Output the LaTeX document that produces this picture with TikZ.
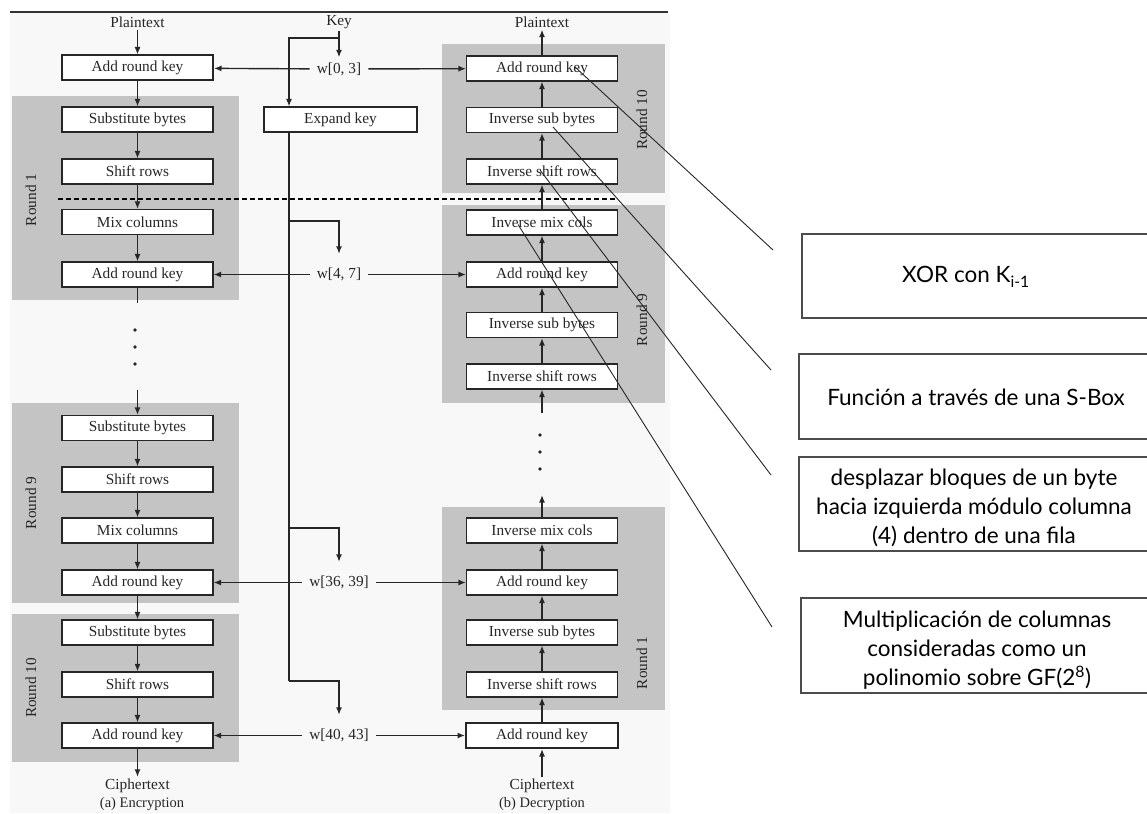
\documentclass[tikz,border=0pt]{standalone}
\usepackage{fontspec}
\setmainfont{Liberation Serif}
\newfontfamily\notefont{Lato}
\usetikzlibrary{arrows.meta,calc}
\definecolor{scanbg}{RGB}{247,248,247}
\definecolor{roundfill}{RGB}{196,196,196}
\definecolor{ink}{RGB}{38,38,38}
\begin{document}
\begin{tikzpicture}[x=1pt,y=-1pt,
  txt/.style={font=\fontsize{15.3}{17}\selectfont, text=ink},
  stage/.style={txt, draw=ink, fill=white, line width=1.1pt,
    minimum width=151pt, minimum height=25pt, inner sep=0pt},
  thickstage/.style={stage, line width=2pt},
  lbl/.style={txt, inner sep=2pt},
  roundlbl/.style={txt, rotate=90},
  flow/.style={draw=ink, line width=1.4pt, -{Latex[length=7.5pt,width=6pt]}},
  wire/.style={draw=ink, line width=1.4pt},
  notebox/.style={draw=black!70, line width=1.3pt, inner sep=0pt},
  notetext/.style={font=\notefont\fontsize{22.5}{29}\selectfont, align=center, inner sep=0pt},
  pointer/.style={draw=black!85, line width=0.9pt}
]
\useasboundingbox (0,0) rectangle (1147,813);
\clip (0,0) rectangle (1147,813);
\fill[white] (0,0) rectangle (1147,813);
\fill[scanbg] (10,12) rectangle (670,813);
\draw[black!80, line width=1.5pt] (10,12) -- (668,12);

% shaded round blocks
\fill[roundfill] (12,96) rectangle (239,300);
\fill[roundfill] (12,403) rectangle (239,603);
\fill[roundfill] (12,614) rectangle (239,762);
\fill[roundfill] (442,44) rectangle (665,193);
\fill[roundfill] (442,205) rectangle (665,403);
\fill[roundfill] (442,507) rectangle (665,710);

\node[roundlbl] (lr1) at (31,200) {Round 1};
\node[roundlbl] (lr9) at (31,503) {Round 9};
\node[roundlbl] (lr10) at (31,688) {Round 10};
\node[roundlbl] (rr10) at (642,120) {Round 10};
\node[roundlbl] (rr9) at (642,320) {Round 9};
\node[roundlbl] (rr1) at (642,663) {Round 1};

% boundary between first and later round keys
\draw[black, line width=1.4pt, dash pattern=on 5pt off 3pt] (58,199) -- (617,199);

% encryption column
\node[lbl] (ptA) at (137.5,22) {Plaintext};
\node[thickstage] (e0) at (137.5,68) {Add round key};
\node[stage] (e1sub) at (137.5,119.5) {Substitute bytes};
\node[stage] (e1shift) at (137.5,171.5) {Shift rows};
\node[stage] (e1mix) at (137.5,222) {Mix columns};
\node[stage] (e1ark) at (137.5,274.5) {Add round key};
\node[stage] (e9sub) at (137.5,428) {Substitute bytes};
\node[stage] (e9shift) at (137.5,479.5) {Shift rows};
\node[stage] (e9mix) at (137.5,530.5) {Mix columns};
\node[stage] (e9ark) at (137.5,582.5) {Add round key};
\node[stage] (e10sub) at (137.5,632.5) {Substitute bytes};
\node[stage] (e10shift) at (137.5,684.5) {Shift rows};
\node[stage] (e10ark) at (137.5,735.5) {Add round key};
\node[lbl] (ctA) at (137.5,786) {Ciphertext};
\node[lbl, font=\fontsize{14.5}{16}\selectfont] (capA) at (142,804) {(a) Encryption};

% key schedule column
\node[lbl] (key) at (339,22) {Key};
\node[thickstage, minimum width=153pt] (expand) at (340.5,120) {Expand key};
\node[lbl] (w0) at (339,69) {w[0, 3]};
\node[lbl] (w4) at (339,274.5) {w[4, 7]};
\node[lbl] (w36) at (339,582.5) {w[36, 39]};
\node[lbl] (w40) at (339,735.5) {w[40, 43]};

% decryption column
\node[lbl] (ptB) at (542,22) {Plaintext};
\node[stage] (d10ark) at (542,68.5) {Add round key};
\node[stage] (d10isb) at (542,120) {Inverse sub bytes};
\node[stage] (d10isr) at (542,171.5) {Inverse shift rows};
\node[stage] (d9imc) at (542,222.5) {Inverse mix cols};
\node[stage] (d9ark) at (542,274.5) {Add round key};
\node[stage] (d9isb) at (542,325) {Inverse sub bytes};
\node[stage] (d9isr) at (542,376.5) {Inverse shift rows};
\node[stage] (d1imc) at (542,530.5) {Inverse mix cols};
\node[stage] (d1ark) at (542,582.5) {Add round key};
\node[stage] (d1isb) at (542,632.5) {Inverse sub bytes};
\node[stage] (d1isr) at (542,684.5) {Inverse shift rows};
\node[thickstage, minimum width=152pt] (d0) at (542,735.5) {Add round key};
\node[lbl] (ctB) at (542,786) {Ciphertext};
\node[lbl, font=\fontsize{14.5}{16}\selectfont] (capB) at (542,804) {(b) Decryption};

% encryption flow
\coordinate (e1out) at (137.5,303);
\coordinate (e9in) at (137.5,390);
\draw[flow] (ptA) -- (e0);
\draw[flow] (e0) -- (e1sub);
\draw[flow] (e1sub) -- (e1shift);
\draw[flow] (e1shift) -- (e1mix);
\draw[flow] (e1mix) -- (e1ark);
\draw[wire] (e1ark) -- (e1out);
\draw[flow] (e9in) -- (e9sub);
\draw[flow] (e9sub) -- (e9shift);
\draw[flow] (e9shift) -- (e9mix);
\draw[flow] (e9mix) -- (e9ark);
\draw[flow] (e9ark) -- (e10sub);
\draw[flow] (e10sub) -- (e10shift);
\draw[flow] (e10shift) -- (e10ark);
\draw[flow] (e10ark) -- (ctA);
\foreach \yy in {330,347,364} \fill[ink] (135,\yy) circle (1.9pt);

% decryption flow
\coordinate (d1out) at (542,495);
\coordinate (d9in) at (542,413);
\draw[flow] (ctB) -- (d0);
\draw[flow] (d0) -- (d1isr);
\draw[flow] (d1isr) -- (d1isb);
\draw[flow] (d1isb) -- (d1ark);
\draw[flow] (d1ark) -- (d1imc);
\draw[flow] (d1imc) -- (d1out);
\draw[flow] (d9in) -- (d9isr);
\draw[flow] (d9isr) -- (d9isb);
\draw[flow] (d9isb) -- (d9ark);
\draw[flow] (d9ark) -- (d9imc);
\draw[flow] (d9imc) -- (d10isr);
\draw[flow] (d10isr) -- (d10isb);
\draw[flow] (d10isb) -- (d10ark);
\draw[flow] (d10ark) -- (ptB);
\foreach \yy in {435,452,469} \fill[ink] (540,\yy) circle (1.9pt);

% key expansion wiring
\coordinate (kb) at (339,38);
\coordinate (kx) at (289,38);
\coordinate (kb4) at (289,221);
\coordinate (kb36) at (289,528);
\coordinate (kd) at (289,681);
\draw[flow, shorten >=3pt] (key) -- (w0);
\draw[flow] (kb) -- (kx) -- (kx |- expand.north);
\draw[wire] (kx |- expand.south) -- (kd);
\draw[flow, shorten >=12pt] (kb4) -| (w4);
\draw[flow, shorten >=12pt] (kb36) -| (w36);
\draw[flow, shorten >=12pt] (kd) -| (w40);

% round keys to both ciphers
\foreach \w/\l/\r in {w0/e0/d10ark, w4/e1ark/d9ark, w36/e9ark/d1ark, w40/e10ark/d0} {
  \draw[flow, shorten <=5pt] (\w) -- (\l);
  \draw[flow, shorten <=5pt] (\w) -- (\r);
}

% annotation boxes
\node[notebox, minimum width=348pt, minimum height=84pt] (nxor) at (976,276) {};
\node[notetext] (txor) at (966,277) {XOR con K\textsubscript{i-1}};
\node[notebox, minimum width=351pt, minimum height=85pt] (nsbox) at (974.5,396.5) {};
\node[notetext] (tsbox) at (976,397) {Función a través de una S-Box};
\node[notebox, minimum width=351pt, minimum height=94pt] (nshift) at (974.5,504) {};
\node[notetext] (tshift) at (974,508) {desplazar bloques de un byte\\hacia izquierda módulo columna\\(4) dentro de una fila};
\node[notebox, minimum width=349pt, minimum height=95pt] (nmix) at (975.5,645.5) {};
\node[notetext] (tmix) at (977,650) {Multiplicación de columnas\\consideradas como un\\polinomio sobre GF(2\textsuperscript{8})};

% pointers from the decryption steps
\coordinate (q1) at (773,250);
\coordinate (q2) at (771,370);
\coordinate (q3) at (771,475);
\coordinate (q4) at (772,627);
\draw[pointer] ($(d10ark.center)+(33,-1.5)$) -- (q1);
\draw[pointer] ($(d10isb.center)+(11,7)$) -- (q2);
\draw[pointer] ($(d10isr.center)+(-2,-1.5)$) -- (q3);
\draw[pointer] ($(d9imc.center)+(-24,2)$) -- (q4);
\end{tikzpicture}
\end{document}
